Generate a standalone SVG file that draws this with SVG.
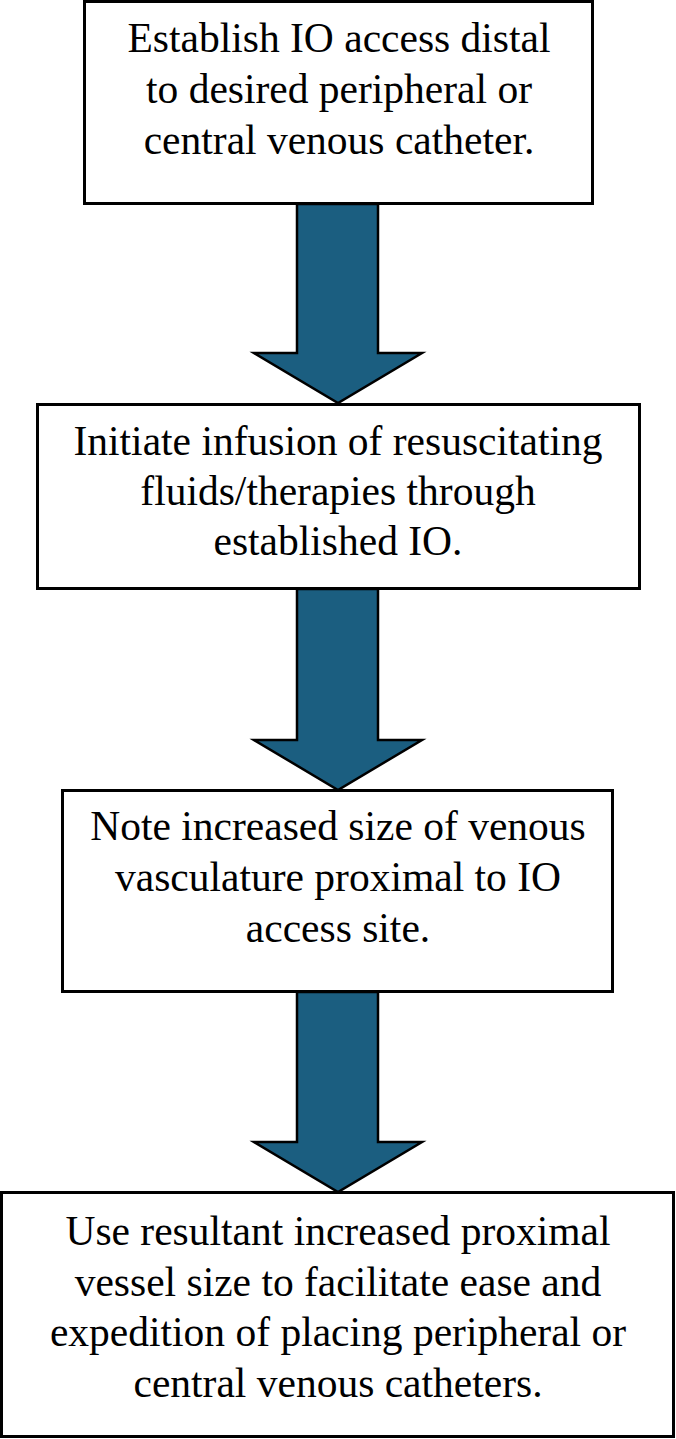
<svg xmlns="http://www.w3.org/2000/svg" width="676" height="1439" viewBox="0 0 676 1439">
<style>
.box{fill:#fff;stroke:#000;stroke-width:3}
.arr{fill:#1b5e80;stroke:#000;stroke-width:2.5;stroke-linejoin:miter}
.t{font-family:"Liberation Serif","Times New Roman",serif;font-size:41.5px;fill:#000;text-anchor:middle}
</style>
<rect width="676" height="1439" fill="#fff"/>
<g id="connectors">
<path class="arr" d="M297,204 L378,204 L378,353 L422,353 L338,403 L254,353 L297,353 Z"/>
<path class="arr" d="M297,589 L378,589 L378,740 L422,740 L338,790 L254,740 L297,740 Z"/>
<path class="arr" d="M297,992 L378,992 L378,1142 L422,1142 L338,1192 L254,1142 L297,1142 Z"/>
</g>
<g id="node1">
<rect class="box" x="84.5" y="1.5" width="508" height="202"/>
<text class="t" x="339" y="52">Establish IO access distal</text>
<text class="t" x="339" y="103">to desired peripheral or</text>
<text class="t" x="339" y="154">central venous catheter.</text>
</g>
<g id="node2">
<rect class="box" x="37.5" y="404.5" width="602" height="184"/>
<text class="t" x="338" y="455">Initiate infusion of resuscitating</text>
<text class="t" x="338" y="505">fluids/therapies through</text>
<text class="t" x="338" y="555">established IO.</text>
</g>
<g id="node3">
<rect class="box" x="62.5" y="790.5" width="550" height="201"/>
<text class="t" x="338" y="840">Note increased size of venous</text>
<text class="t" x="338" y="891">vasculature proximal to IO</text>
<text class="t" x="338" y="942">access site.</text>
</g>
<g id="node4">
<rect class="box" x="1.5" y="1192.5" width="672" height="244"/>
<text class="t" x="338" y="1245">Use resultant increased proximal</text>
<text class="t" x="338" y="1296">vessel size to facilitate ease and</text>
<text class="t" x="338" y="1346">expedition of placing peripheral or</text>
<text class="t" x="338" y="1397">central venous catheters.</text>
</g>
</svg>
